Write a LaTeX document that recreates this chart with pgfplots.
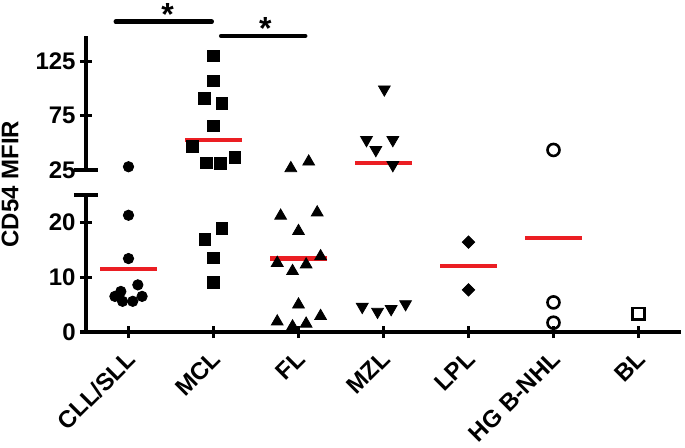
\documentclass[border=0pt]{standalone}
\usepackage{pgfplots}
\pgfplotsset{compat=1.18}
\usepackage{fontspec}
\setmainfont{Liberation Sans}
\definecolor{medred}{RGB}{235,30,35}
\newcommand{\bigf}{\fontsize{12}{14}\selectfont\bfseries}
\newcommand{\xf}{\fontsize{12}{14}\selectfont\bfseries}
\begin{document}
\begin{tikzpicture}
\pgfplotsset{
  common/.style={
    scale only axis, width=297.5pt, xmin=0.5, xmax=7.5, clip=false,
    tick style={line width=1.6pt, black},
    major tick length=6pt, tick align=outside,
    /pgf/number format/assume math mode=true,
    ticklabel style={font=\bigf},
    yticklabel style={inner sep=0.5pt, xshift=-1.5pt},
  },
  noarrows/.style={axis line style={-, line width=1.6pt},
    every outer x axis line/.append style={-},
    every outer y axis line/.append style={-}},
  circ/.style={only marks, black, mark=*, mark size=2.6pt},
  sq/.style={only marks, black, mark=square*, mark size=2.9pt},
  tri/.style={only marks, black, mark=triangle*, mark size=3.4pt},
  itri/.style={only marks, black, mark=triangle*, mark size=3.4pt, mark options={rotate=180}},
  diam/.style={only marks, black, mark=square*, mark size=2.2pt, mark options={rotate=45}},
  ocirc/.style={only marks, black, mark=o, mark size=3pt, mark options={line width=1.3pt}},
  osq/.style={only marks, black, mark=square, mark size=2.9pt, mark options={line width=1.3pt}},
  med/.style={no markers, color=medred, line width=2.1pt},
}
% ---------------- lower segment ----------------
\begin{axis}[common, at={(43pt,-166pt)}, anchor=south west, height=68.5pt,
  ymin=0, ymax=25,
  axis x line=bottom, axis y line=left, noarrows,
  ytick={0,10,20},
  extra y ticks={25}, extra y tick labels={},
  extra y tick style={tick align=center, major tick length=12pt},
  xtick={1,2,3,4,5,6,7},
  xticklabels={CLL/SLL,MCL,FL,MZL,LPL,HG B-NHL,BL},
  xticklabel style={rotate=45, anchor=north east, font=\xf, inner sep=0pt, xshift=-5pt, yshift=-2.5pt},
]
\addplot[circ] coordinates {(1,21.3) (1,13.4) (1.11,8.6) (0.91,7.4) (0.84,6.5) (0.93,5.6) (1.05,5.6) (1.16,6.5)};
\addplot[sq] coordinates {(1.90,16.9) (2.10,18.9) (2,13.5) (2,9.1)};
\addplot[tri] coordinates {(2.79,21.2) (3.22,21.8) (3.0,18.4) (2.75,12.6) (2.93,11.1) (3.09,12.3) (3.26,13.8) (3.0,5.0) (2.75,1.9) (2.93,1.0) (3.09,1.5) (3.26,2.9)};
\addplot[itri] coordinates {(3.75,4.6) (3.93,3.7) (4.09,4.2) (4.26,5.1)};
\addplot[diam] coordinates {(5,16.4) (5,7.7)};
\addplot[ocirc] coordinates {(6,5.4) (6,1.7)};
\addplot[osq] coordinates {(7,3.3)};
\addplot[med] coordinates {(0.67,11.5) (1.33,11.5)};
\addplot[med] coordinates {(2.67,13.4) (3.33,13.4)};
\addplot[med] coordinates {(4.67,12.1) (5.33,12.1)};
\addplot[med] coordinates {(5.67,17.2) (6.33,17.2)};
\end{axis}
% ---------------- upper segment ----------------
\begin{axis}[common, at={(43pt,-85pt)}, anchor=south west, height=67pt,
  ymin=25, ymax=148.6,
  axis x line=none, axis y line=left, noarrows,
  ytick={25,75,125}, xtick=\empty,
  extra y ticks={25}, extra y tick labels={},
  extra y tick style={tick align=center, major tick length=12pt},
]
\addplot[circ] coordinates {(1,28)};
\addplot[sq] coordinates {(2,130.2) (2,107.1) (1.89,90.8) (2.10,86.5) (2,65.6) (1.75,46.5) (1.92,31.7) (2.08,31.2) (2.25,36.7)};
\addplot[tri] coordinates {(2.91,26.6) (3.12,32.7)};
\addplot[itri] coordinates {(4.01,99.4) (3.80,52.7) (4.11,52.7) (3.91,43.5) (4.11,29.6)};
\addplot[ocirc] coordinates {(6,43.5)};
\addplot[med] coordinates {(1.67,52.7) (2.33,52.7)};
\addplot[med] coordinates {(3.67,31.7) (4.33,31.7)};
% significance bars
\addplot[no markers, black, line width=2.2pt, line cap=round] coordinates {(0.85,161.8) (1.98,161.8)};
\addplot[no markers, black, line width=2.2pt, line cap=round] coordinates {(2.09,148.6) (3.08,148.6)};
\node[font=\fontsize{16}{18}\selectfont\bfseries, anchor=base, inner sep=0pt] at (axis cs:1.46,158) {*};
\node[font=\fontsize{16}{18}\selectfont\bfseries, anchor=base, inner sep=0pt] at (axis cs:2.61,145) {*};
\end{axis}
\node[rotate=90, font=\bigf, inner sep=0pt] at (5pt,-92pt) {CD54 MFIR};
\pgfresetboundingbox
\useasboundingbox (0,0) rectangle (342.5pt,-224pt);
\end{tikzpicture}
\end{document}
